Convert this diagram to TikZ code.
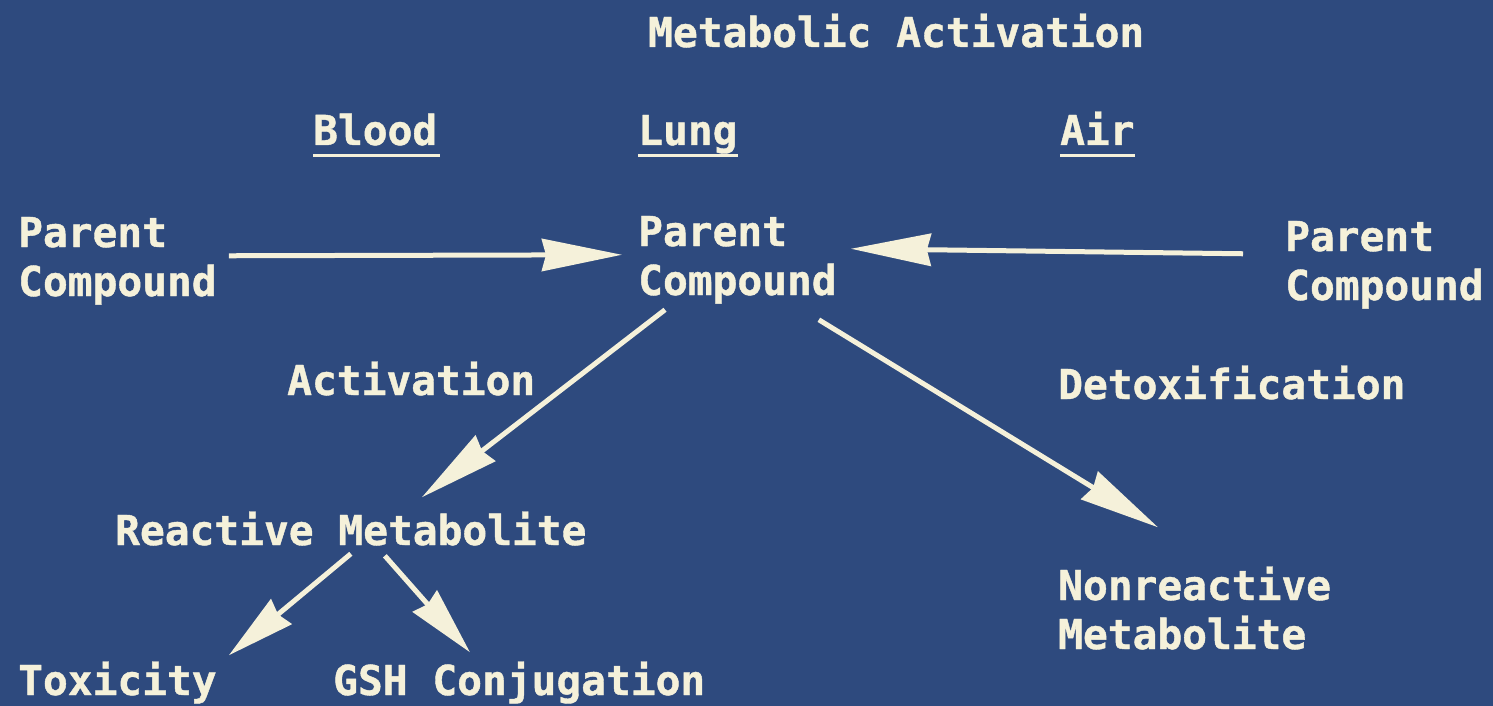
\documentclass[tikz,border=0pt]{standalone}
\usepackage{fontspec}
\setmonofont[FakeBold=1.0]{DejaVu Sans Mono}
\usetikzlibrary{arrows.meta}
\definecolor{bg}{RGB}{46,74,126}
\definecolor{fg}{RGB}{245,241,218}
\tikzset{
  lbl/.style={text=fg, inner sep=0pt, anchor=base west, align=left,
    font=\fontsize{41.2pt}{49pt}\selectfont\ttfamily\bfseries},
  arr/.style={draw=fg, line width=5pt,
    -{Stealth[length=80pt,width=32pt,inset=4pt]}},
  sarr/.style={draw=fg, line width=5pt,
    -{Stealth[length=68pt,width=32pt,inset=4pt]}},
  ul/.style={draw=fg, line width=3pt}
}
\begin{document}
\begin{tikzpicture}[x=1pt,y=-1pt]
\fill[bg] (0,0) rectangle (1493,706);
\useasboundingbox (0,0) rectangle (1493,706);

\node[lbl] (title) at (648,47) {Metabolic Activation};
\node[lbl] (blood) at (313,145) {Blood};
\node[lbl] (lung) at (638,145) {Lung};
\node[lbl] (air) at (1060,145) {Air};
\draw[ul] ([yshift=-10pt]blood.base west) -- ([yshift=-10pt,xshift=3pt]blood.base east);
\draw[ul] ([yshift=-10pt]lung.base west) -- ([yshift=-10pt]lung.base east);
\draw[ul] ([yshift=-10pt]air.base west) -- ([yshift=-10pt]air.base east);

\node[lbl] (pl) at (18,296) {Parent\\Compound};
\node[lbl] (pc) at (638,295) {Parent\\Compound};
\node[lbl] (pr) at (1285,300) {Parent\\Compound};

\node[lbl] (act) at (287,395) {Activation};
\node[lbl] (det) at (1058,399) {Detoxification};
\node[lbl] (rm) at (115,545) {Reactive Metabolite};
\node[lbl] (nm) at (1058,649) {Nonreactive\\Metabolite};
\node[lbl] (tox) at (18,695) {Toxicity};
\node[lbl] (gsh) at (333,695) {GSH Conjugation};

\draw[arr] ([xshift=12pt,yshift=5pt]pl.east) -- ([xshift=-16pt,yshift=5pt]pc.west);
\draw[arr] ([xshift=-42pt,yshift=11pt]pr.west) -- ([xshift=14pt,yshift=11pt]pc.east);
\draw[arr] ([xshift=27pt,yshift=-6pt]pc.south west) -- ([xshift=71pt,yshift=14pt]rm.north);
\draw[arr] ([xshift=-18pt,yshift=-16pt]pc.south east) -- ([xshift=100pt,yshift=39pt]nm.north west);
\draw[sarr] ([yshift=-8pt]rm.south) -- ([xshift=12pt,yshift=6pt]tox.north east);
\draw[sarr] ([xshift=34pt,yshift=-10pt]rm.south) -- ([xshift=137pt,yshift=9pt]gsh.north west);
\end{tikzpicture}
\end{document}
